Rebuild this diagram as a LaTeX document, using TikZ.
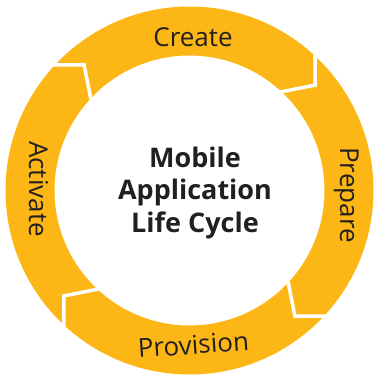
\documentclass[tikz,border=0pt]{standalone}
\usepackage{fontspec}
\setmainfont{Open Sans}
\usetikzlibrary{calc}
\definecolor{ringcol}{RGB}{252,183,22}
\definecolor{ink}{RGB}{35,31,32}
\begin{document}
\begin{tikzpicture}[x=1pt,y=1pt,
  lbl/.style={text=ink, font=\fontsize{26}{30}\selectfont, inner sep=0pt},
  title/.style={text=ink, font=\bfseries\fontsize{27}{32.5}\selectfont, align=center, inner sep=0pt},
  gapline/.style={draw=white, line width=3.5pt, line join=miter}]
\useasboundingbox (0,0) rectangle (376,378);
\coordinate (C) at (189.5,187.5);
\fill[ringcol, even odd rule] (C) circle[radius=184] (C) circle[radius=135];
\foreach \a [count=\i] in {40,-50,-140,130} {
  \coordinate (t\i) at ($(C)+(\a:164)$);
  \coordinate (o\i) at ($(C)+(\a+7.5:186)$);
  \coordinate (n\i) at ($(C)+(\a+7:135)$);
  \draw[gapline] ($(t\i)!1.4!(o\i)$) -- (t\i) -- ($(t\i)!1.35!(n\i)$);
}
\node[lbl, anchor=base] (create) at (193,331.5) {Create};
\node[lbl, anchor=base, rotate=-90] (prepare) at (340,183) {Prepare};
\node[lbl, anchor=base, rotate=4] (provision) at (194,24) {Provision};
\node[lbl, anchor=base, rotate=-90] (activate) at (29,189) {Activate};
\node[title] (cycle) at (195,185.5) {Mobile\\Application\\Life Cycle};
\end{tikzpicture}
\end{document}
